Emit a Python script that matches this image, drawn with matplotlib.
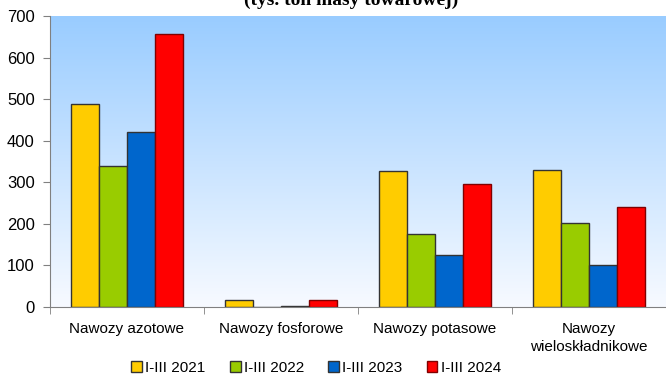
import matplotlib.pyplot as plt
import numpy as np
from matplotlib.colors import LinearSegmentedColormap

# Import nawozów w okresie I-III (tys. ton masy towarowej)
kategorie = ['Nawozy azotowe', 'Nawozy fosforowe', 'Nawozy potasowe', 'Nawozy\nwieloskładnikowe']
okresy = ['I-III 2021', 'I-III 2022', 'I-III 2023', 'I-III 2024']
i_iii_2021 = [488, 17, 326, 330]
i_iii_2022 = [340, 1, 176, 201]
i_iii_2023 = [421, 2, 124, 102]
i_iii_2024 = [657, 17, 295, 240]

kolory = ['#FFCC00', '#99CC00', '#0066CC', '#FF0000']
krawedzie = ['#333333', '#333333', '#333333', '#800000']

fig = plt.figure(figsize=(6.66, 3.76), dpi=100)
ax = fig.add_axes([0.075, 0.1835, 0.925, 0.774])

# tło z gradientem od jasnoniebieskiego do białego
grad = LinearSegmentedColormap.from_list('tlo', ['#F7FAFF', '#99CCFF'])
ax.imshow(np.linspace(0, 1, 256).reshape(-1, 1), aspect='auto', cmap=grad,
          origin='lower', extent=[-0.5, 3.5, 0, 700], zorder=0)

x = np.arange(len(kategorie))
szer = 0.182
serie = [i_iii_2021, i_iii_2022, i_iii_2023, i_iii_2024]
for i, (dane, nazwa) in enumerate(zip(serie, okresy)):
    ax.bar(x + (i - 1.5) * szer, dane, szer, color=kolory[i], edgecolor=krawedzie[i],
           linewidth=1.0, label=nazwa, zorder=2)

ax.set_xlim(-0.5, 3.5)
ax.set_ylim(0, 700)
ax.set_yticks(range(0, 701, 100))

ax.set_xticks(x)
ax.set_xticklabels(kategorie, fontsize=11, family='Liberation Sans', linespacing=1.35)
ax.tick_params(axis='x', length=0, pad=11)
ax.set_xticks(np.arange(-0.5, 3.6, 1), minor=True)
ax.tick_params(axis='x', which='minor', length=5, color='#808080')
ax.tick_params(axis='y', length=5, color='#808080', labelsize=12, pad=6)
for lab in ax.get_yticklabels():
    lab.set_family('Liberation Sans')

for s in ['top', 'right']:
    ax.spines[s].set_visible(False)
ax.spines['left'].set_color('#808080')
ax.spines['bottom'].set_color('#808080')

fig.text(0.527, 1.0, '(tys. ton masy towarowej)', ha='center', va='center',
         fontsize=14, fontweight='bold', family='Liberation Serif')

ax.legend(loc='center', bbox_to_anchor=(0.432, -0.21), ncol=4, frameon=False,
          prop={'family': 'Liberation Sans', 'size': 11}, handlelength=0.7,
          handleheight=0.7, handletextpad=0.2, columnspacing=1.6)

fig.savefig('out.png', dpi=100)
